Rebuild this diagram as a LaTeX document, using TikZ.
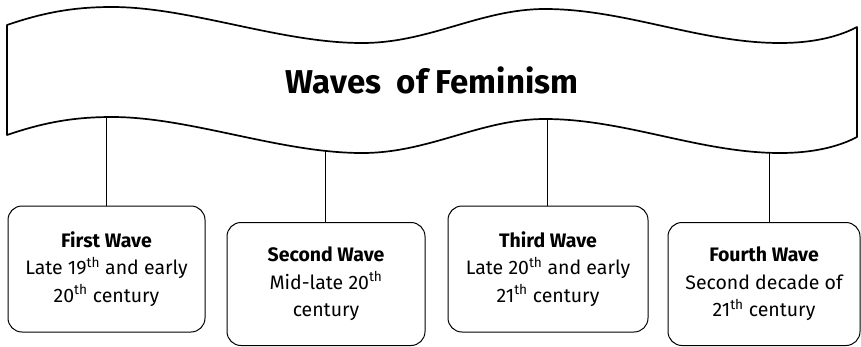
\documentclass[tikz,border=0pt]{standalone}
\usepackage{fontspec}
\setmainfont{Fira Sans}
\usetikzlibrary{positioning}

\tikzset{
  wavebox/.style={draw,rounded corners=14pt,line width=1pt,align=center,
    inner sep=0pt,font=\fontsize{19.5}{27.5}\selectfont},
  stem/.style={line width=0.8pt},
  banner/.style={draw,fill=white,line width=1.7pt,line join=round}
}
\newcommand{\ord}[1]{\textsuperscript{#1}}

\begin{document}
\begin{tikzpicture}[x=1pt,y=-1pt]
\useasboundingbox (0,0) rectangle (861,346);
% the four waves
\node[wavebox,minimum width=197pt,minimum height=126pt] (first) at (106.5,269)
  {\textbf{First Wave}\\Late 19\ord{th} and early\\20\ord{th} century};
\node[wavebox,minimum width=198pt,minimum height=123pt] (second) at (326,284)
  {\textbf{Second Wave}\\Mid-late 20\ord{th}\\century};
\node[wavebox,minimum width=200pt,minimum height=126pt] (third) at (548,269)
  {\textbf{Third Wave}\\Late 20\ord{th} and early\\21\ord{th} century};
\node[wavebox,minimum width=192pt,minimum height=123pt] (fourth) at (764,284)
  {\textbf{Fourth Wave}\\Second decade of\\21\ord{th} century};
% stems start under the banner, which hides their ends
\foreach \name/\x in {first/106,second/325,third/547,fourth/769} {
  \coordinate (\name-top) at (\x,100);
  \draw[stem] (\name-top) -- (\name-top |- \name.north);
}
% banner
\path[banner] (7,25) .. controls (45,12) and (75,7) .. (112,7)
  .. controls (190,7) and (280,43) .. (362,43)
  .. controls (430,43) and (480,9) .. (545,9)
  .. controls (625,9) and (700,43) .. (780,43)
  .. controls (815,43) and (840,36) .. (857,27)
  -- (857,137)
  .. controls (840,146) and (815,153) .. (780,153)
  .. controls (700,153) and (625,119) .. (545,119)
  .. controls (480,119) and (430,153) .. (362,153)
  .. controls (280,153) and (190,117) .. (112,117)
  .. controls (75,117) and (45,122) .. (7,135) -- cycle;
\node[font=\fontsize{33}{38}\selectfont\bfseries] (title) at (432,80) {Waves\ \ of Feminism};
\end{tikzpicture}
\end{document}
